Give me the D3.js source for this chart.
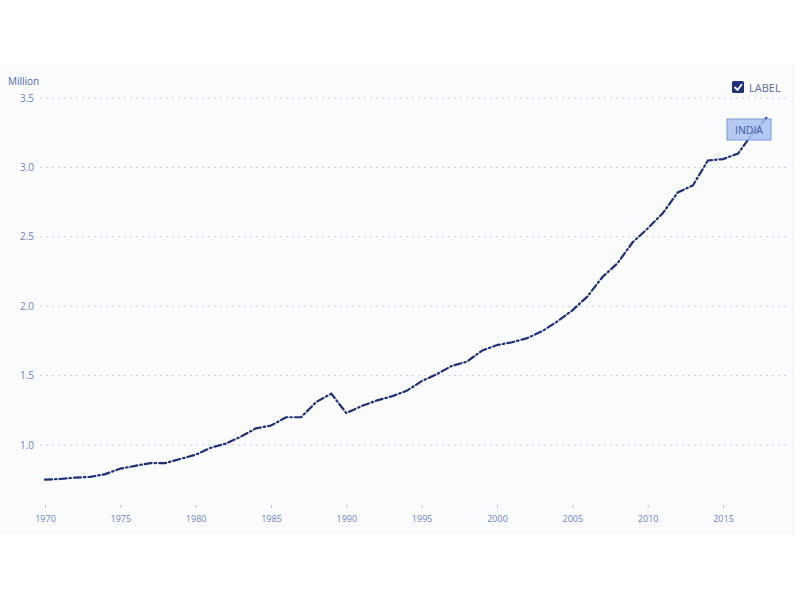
<!DOCTYPE html>
<html><head><meta charset="utf-8">
<script src="https://cdn.jsdelivr.net/npm/d3@7"></script>
<style>body{margin:0;background:#fff;font-family:"Open Sans",sans-serif;}</style>
</head><body><svg id="c" width="800" height="600"></svg>
<script>
const years = d3.range(1970, 2019);
const values = [0.75,0.755,0.765,0.77,0.79,0.83,0.85,0.87,0.87,0.90,0.93,0.98,1.01,1.06,1.12,1.14,1.20,1.20,1.31,1.37,1.23,1.28,1.32,1.35,1.39,1.46,1.51,1.57,1.60,1.68,1.72,1.74,1.77,1.82,1.89,1.97,2.07,2.21,2.31,2.46,2.56,2.67,2.82,2.87,3.05,3.06,3.10,3.25,3.37];
const yTicks = [1.0,1.5,2.0,2.5,3.0,3.5];
const xTicks = [1970,1975,1980,1985,1990,1995,2000,2005,2010,2015];
const seriesName = "INDIA";
const unitLabel = "Million";
const legendLabel = "LABEL";

const svg = d3.select("#c");
svg.append("rect").attr("x",0).attr("y",64).attr("width",793).attr("height",471).attr("fill","#fafbfd");
svg.append("line").attr("x1",793).attr("x2",793).attr("y1",64).attr("y2",535).attr("stroke","#eef0f5");

const x = d3.scaleLinear().domain([1970,2015]).range([45,723]);
const y = d3.scaleLinear().domain([1.0,3.5]).range([445,98]);

// grid
svg.append("g").selectAll("line").data(yTicks).join("line")
  .attr("x1",40).attr("x2",790).attr("y1",d=>y(d)).attr("y2",d=>y(d))
  .attr("stroke","#c3cdee").attr("stroke-width",1).attr("stroke-dasharray","2,4");
svg.append("g").selectAll("text").data(yTicks).join("text")
  .attr("x",34).attr("y",d=>y(d)+3.5).attr("text-anchor","end")
  .attr("font-size",10).attr("fill","#6f82c9").text(d=>d.toFixed(1));
svg.append("text").attr("x",8).attr("y",85).attr("font-size",10).attr("fill","#5166bd").text(unitLabel);

// x axis
const xAxis = d3.axisBottom(x).tickValues(xTicks).tickFormat(d3.format("d")).tickSize(3).tickPadding(8);
const gx = svg.append("g").attr("transform","translate(0,505)").call(xAxis);
gx.select(".domain").remove();
gx.selectAll("line").attr("stroke","#b8c2e6");
gx.selectAll("text").attr("font-size",9).attr("fill","#6f82c9").attr("font-family","Open Sans, sans-serif");

// line
const line = d3.line().x((d,i)=>x(years[i])).y(d=>y(d));
svg.append("path").datum(values).attr("d",line).attr("fill","none")
  .attr("stroke","#1f2f7a").attr("stroke-width",2.2)
  .attr("stroke-dasharray","7,3,1.5,3").attr("stroke-linecap","round");

// label box
const lb = svg.append("g");
lb.append("rect").attr("x",727).attr("y",119).attr("width",44).attr("height",21)
  .attr("fill","#a8c0ee").attr("fill-opacity",0.85).attr("stroke","#7a98de").attr("stroke-width",1);
lb.append("text").attr("x",749).attr("y",134).attr("text-anchor","middle").attr("font-size",10.5)
  .attr("fill","#3e5aa6").text(seriesName);

// legend
const lg = svg.append("g");
lg.append("rect").attr("x",732).attr("y",81).attr("width",12).attr("height",12).attr("rx",1.5).attr("fill","#1f2f7a");
lg.append("path").attr("d","M734.5,87 L737.5,90 L742,84").attr("fill","none").attr("stroke","#fff").attr("stroke-width",1.8);
lg.append("text").attr("x",749).attr("y",91.5).attr("font-size",11).attr("fill","#5a6aa8").text(legendLabel);
</script></body></html>
